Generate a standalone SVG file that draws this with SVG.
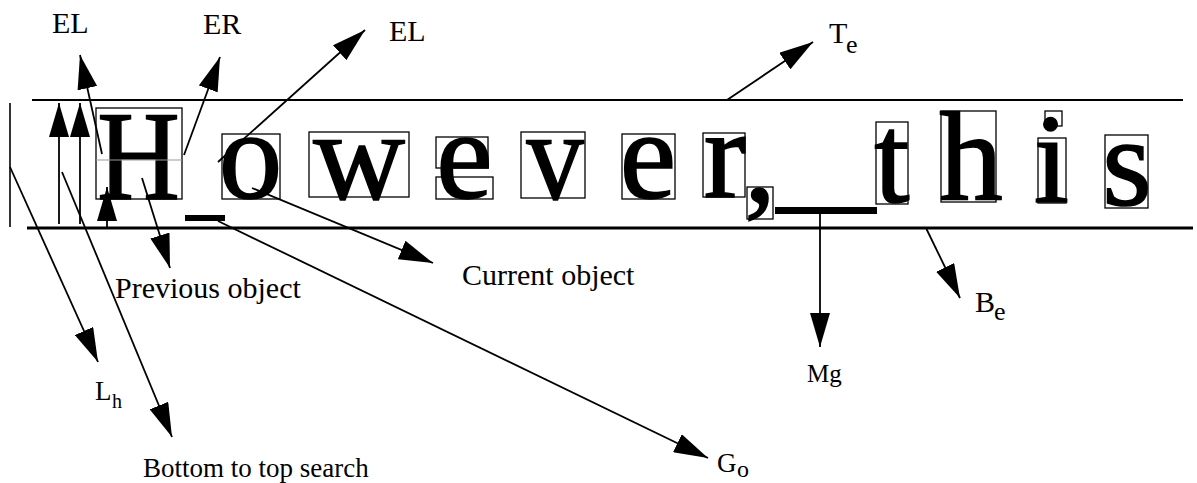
<svg xmlns="http://www.w3.org/2000/svg" width="1197" height="483" viewBox="0 0 1197 483">
<style>
text{font-family:"Liberation Serif","Times New Roman",serif;fill:#000}
.big{font-size:127px;text-anchor:middle;stroke:#000;stroke-width:1.6;stroke-linejoin:miter}
.lbl{font-size:30px}
.box{fill:none;stroke:#000;stroke-width:1.3}
.rule{stroke:#000;fill:none}
.con{stroke:#000;stroke-width:1.8;fill:none;marker-end:url(#ah)}
</style>
<defs>
<marker id="ah" markerUnits="userSpaceOnUse" markerWidth="34" markerHeight="20" refX="34" refY="10" orient="auto" viewBox="0 0 34 20">
<path d="M0,0 L34,10 L0,20 z" fill="#000"/>
</marker>
</defs>
<rect width="1197" height="483" fill="#fff"/>
<g id="baselines">
<line class="rule" x1="32" y1="100" x2="1183" y2="100" stroke-width="2"/>
<line class="rule" x1="27" y1="228" x2="1193" y2="228" stroke-width="3"/>
<line class="rule" x1="10" y1="103" x2="10" y2="227" stroke-width="1.6"/>
</g>
<g id="letter-H">
<text class="big" transform="translate(138.5,199) scale(0.9,1)" x="0" y="0">H</text>
<rect class="box" x="96" y="108" width="86" height="91"/>
<line x1="96" y1="160" x2="182" y2="160" stroke="#999" stroke-width="1"/>
</g>
<g id="gap-1"><rect x="185" y="215" width="40" height="6" fill="#000"/></g>
<g id="letter-o"><text class="big" x="250.5" y="198">o</text><rect class="box" x="222" y="134" width="58" height="65"/></g>
<g id="letter-w"><text class="big" x="359" y="199">w</text><rect class="box" x="309" y="132" width="100" height="65"/></g>
<g id="letter-e1"><text class="big" x="464.5" y="198">e</text><rect class="box" x="436" y="137" width="52" height="31"/><rect class="box" x="436" y="177" width="57" height="22"/></g>
<g id="letter-v"><text class="big" transform="translate(555,199) scale(0.9,1)" x="0" y="0">v</text><rect class="box" x="521" y="132" width="64" height="66"/></g>
<g id="letter-e2"><text class="big" x="648" y="198">e</text><rect class="box" x="622" y="134" width="53" height="65"/></g>
<g id="letter-r"><text class="big" x="725" y="197">r</text><rect class="box" x="703" y="133" width="42" height="64"/></g>
<g id="letter-comma"><text class="big" x="760" y="201">,</text><rect class="box" x="747" y="187" width="26" height="32"/></g>
<g id="gap-2"><rect x="775" y="207" width="102" height="7" fill="#000"/></g>
<g id="letter-t"><text class="big" x="892" y="202">t</text><rect class="box" x="876" y="122" width="32" height="82"/></g>
<g id="letter-h"><text class="big" x="971" y="200">h</text><rect class="box" x="941" y="111" width="55" height="91"/></g>
<g id="letter-i"><text class="big" x="1051.5" y="202">i</text><rect class="box" x="1045" y="111" width="17" height="15"/><rect class="box" x="1038" y="138" width="28" height="65"/></g>
<g id="letter-s"><text class="big" x="1127" y="205">s</text><rect class="box" x="1105" y="135" width="43" height="73"/></g>
<g id="connectors">
<line class="con" x1="59" y1="224" x2="59" y2="103"/>
<line class="con" x1="80" y1="224" x2="80" y2="103"/>
<line class="con" x1="107" y1="228" x2="107" y2="187"/>
<line class="con" x1="102" y1="154" x2="80" y2="55"/>
<line class="con" x1="184" y1="155" x2="220" y2="57"/>
<line class="con" x1="218" y1="162" x2="365" y2="30"/>
<line class="con" x1="727" y1="100" x2="813" y2="42"/>
<line class="con" x1="142" y1="178" x2="170" y2="268"/>
<line class="con" x1="252" y1="188" x2="433" y2="263"/>
<line class="con" x1="218" y1="221" x2="708" y2="458"/>
<line class="con" x1="820" y1="214" x2="820" y2="347"/>
<line class="con" x1="926" y1="228" x2="960" y2="298"/>
<line class="con" x1="10" y1="167" x2="98" y2="362"/>
<line class="con" x1="62" y1="172" x2="172" y2="437"/>
</g>
<g id="label-EL1"><text class="lbl" x="52" y="33">EL</text></g>
<g id="label-ER"><text class="lbl" x="203" y="34">ER</text></g>
<g id="label-EL2"><text class="lbl" x="389" y="41">EL</text></g>
<g id="label-Te"><text class="lbl" x="829" y="43">T</text><text x="846" y="53" font-size="26">e</text></g>
<g id="label-prev"><text class="lbl" x="115" y="298" font-size="31">Previous object</text></g>
<g id="label-curr"><text class="lbl" x="462" y="285" font-size="31">Current object</text></g>
<g id="label-Be"><text class="lbl" x="975" y="312">B</text><text x="994" y="320" font-size="26">e</text></g>
<g id="label-Mg"><text x="807" y="382" font-size="25">Mg</text></g>
<g id="label-Lh"><text x="95" y="400" font-size="27">L</text><text x="112" y="408" font-size="20">h</text></g>
<g id="label-Go"><text x="717" y="472" font-size="27">G</text><text x="737" y="477" font-size="24">o</text></g>
<g id="label-search"><text x="143" y="477" font-size="27">Bottom to top search</text></g>
</svg>
